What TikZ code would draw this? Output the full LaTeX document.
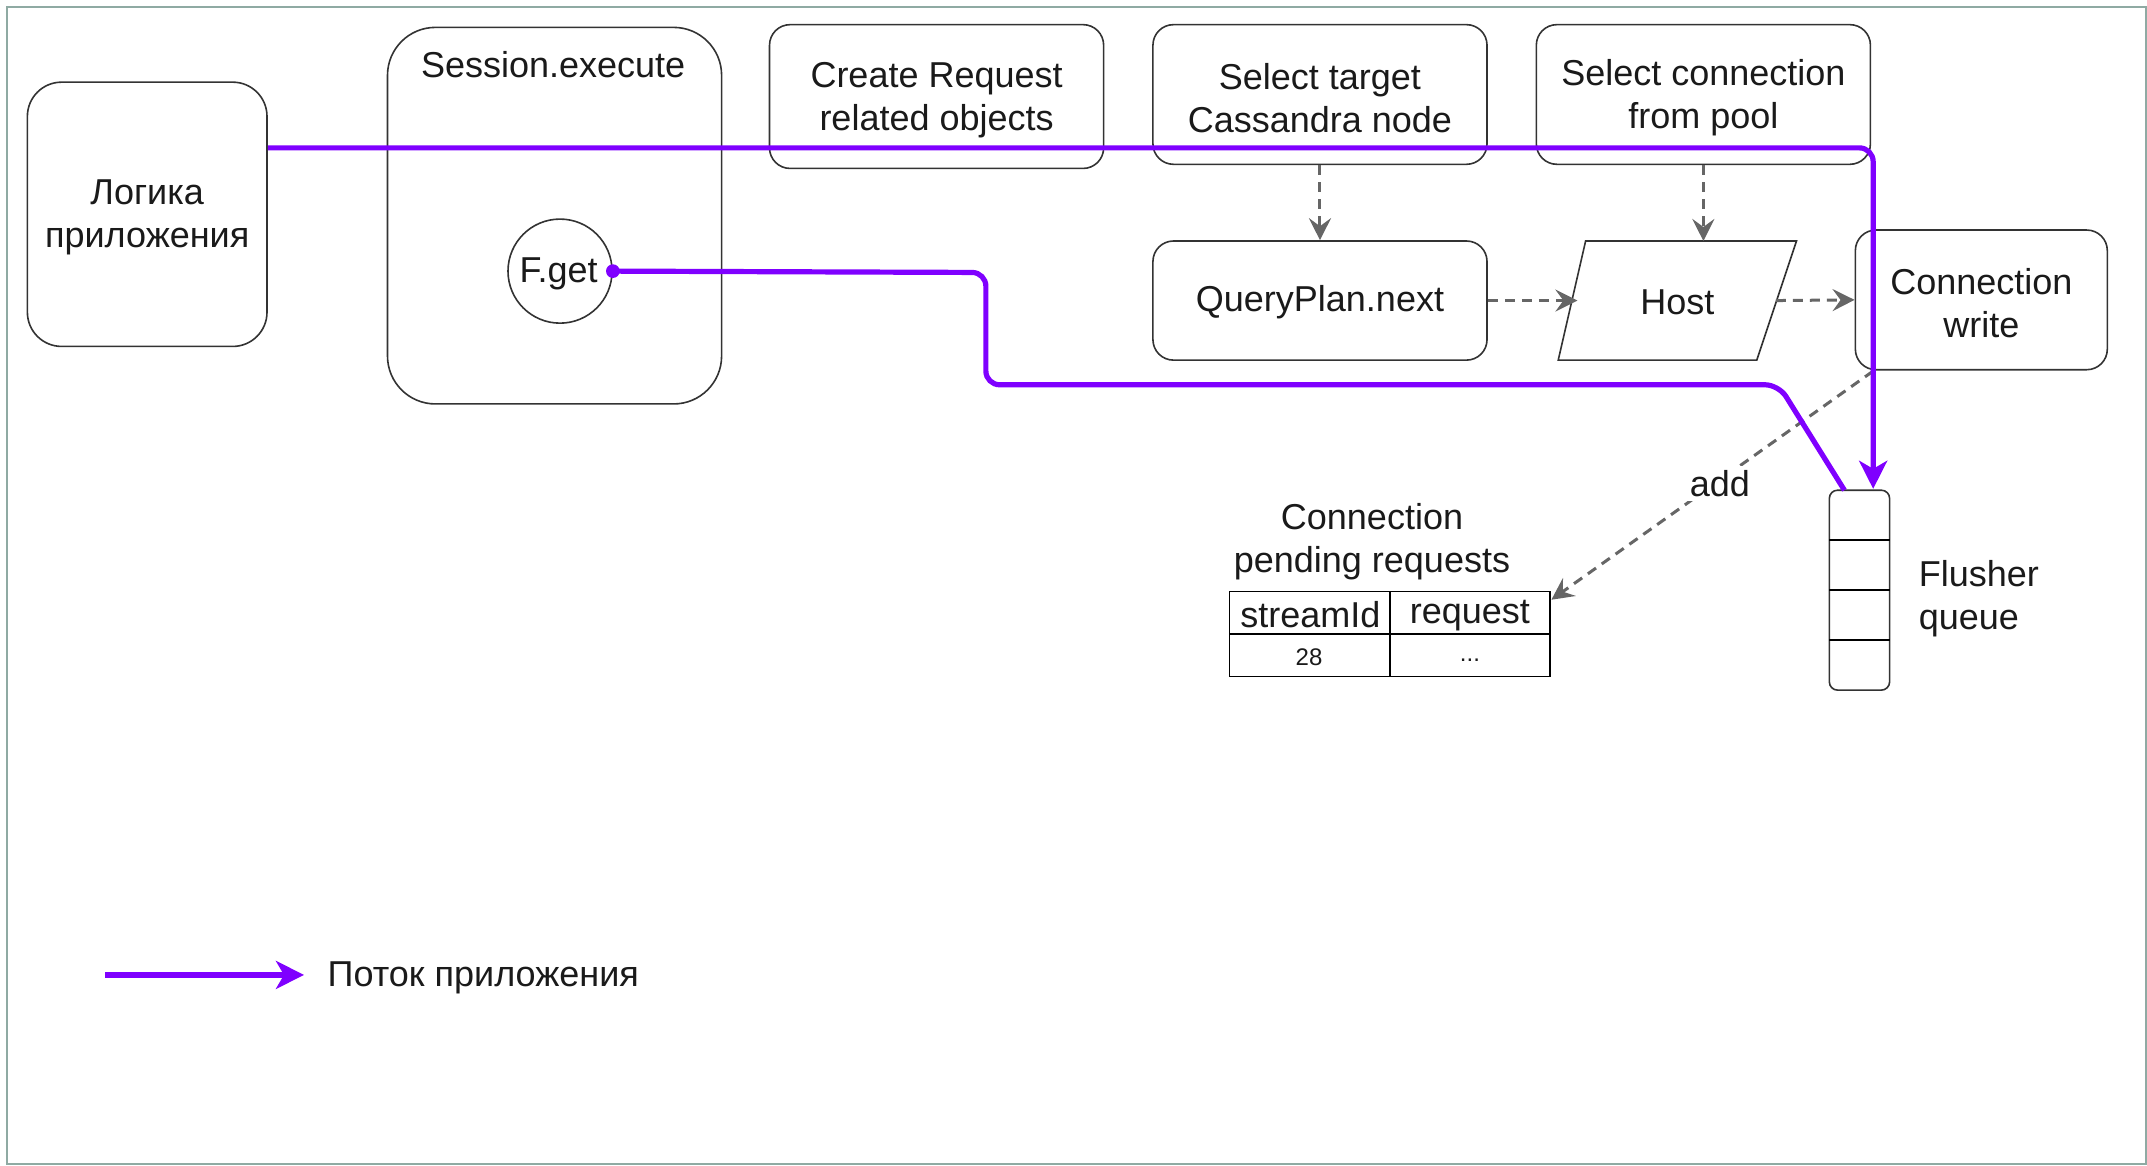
\documentclass[tikz,border=0pt]{standalone}
\usepackage{fontspec}
\setmainfont{Liberation Sans}
\usetikzlibrary{arrows.meta}
\def\px{0.6846pt}
\definecolor{flow}{HTML}{7F00FF}
\definecolor{edge}{HTML}{333333}
\definecolor{dgray}{HTML}{666666}
\definecolor{frame}{HTML}{8FAAA3}
\definecolor{txt}{HTML}{1A1A1A}
\tikzset{
  rbox/.style={draw=edge, line width=0.8pt, fill=white, rounded corners=15*\px, align=center, inner sep=0pt, text=txt},
  lbl/.style={align=center, inner sep=0pt, text=txt},
  dasharrow/.style={draw=dgray, line width=1.5pt, dash pattern=on 5pt off 3.5pt, -{Stealth[length=11pt, width=11pt, inset=4pt]}},
  flowline/.style={draw=flow, line width=2.6pt, rounded corners=10*\px},
  flowtip/.style={-{Stealth[length=14pt, width=14pt, inset=4pt]}}
}
\begin{document}
\begin{tikzpicture}[x=\px, y=-\px, font=\fontsize{18}{21.5}\selectfont]
\useasboundingbox (0,0) rectangle (1568,851);
\draw[frame, line width=1pt] (5,5) rectangle (1567,850);

% boxes
\node[rbox, minimum width=175*\px, minimum height=193*\px, rounded corners=25*\px] (logic) at (107.5,156.5) {};
\node[lbl] (logiclbl) at (107.5,159) {Логика\\приложения};
\node[rbox, minimum width=244*\px, minimum height=275*\px, rounded corners=35*\px] (session) at (405,157.5) {};
\node[lbl] (sesslbl) at (404,47) {Session.execute};
\node[circle, draw=edge, line width=0.8pt, fill=white, minimum size=76*\px, inner sep=0pt] (fget) at (409,198) {};
\node[lbl] (fgetlbl) at (408,200) {F.get};
\node[rbox, minimum width=244*\px, minimum height=105*\px] (create) at (684,70.5) {};
\node[lbl] (createlbl) at (684,73) {Create Request\\related objects};
\node[rbox, minimum width=244*\px, minimum height=102*\px] (target) at (964,69) {};
\node[lbl] (targetlbl) at (964,71.5) {Select target\\Cassandra node};
\node[rbox, minimum width=244*\px, minimum height=102*\px] (pool) at (1244,69) {};
\node[lbl] (poollbl) at (1244,71.5) {Select connection\\from pool};
\node[rbox, minimum width=244*\px, minimum height=87*\px] (qplan) at (964,219.5) {};
\node[lbl] (qplanlbl) at (964,221) {QueryPlan.next};
\draw[edge, line width=0.8pt, fill=white] (1158,176) -- (1312,176) -- (1283,263) -- (1138,263) -- cycle;
\node[lbl] (host) at (1225,221) {Host};
\coordinate (hostT) at (1244,176);
\coordinate (hostL) at (1152,219.5);
\coordinate (hostR) at (1297,219.5);
\node[rbox, minimum width=184*\px, minimum height=102*\px] (cwrite) at (1447,219) {};
\node[lbl] (cwritelbl) at (1447,221.5) {Connection\\write};

% flusher queue
\node[draw=edge, line width=0.8pt, fill=white, rounded corners=6*\px, minimum width=44*\px, minimum height=146*\px, inner sep=0pt] (queue) at (1358,431) {};
\draw[black, line width=0.8pt] (1336,394.5) -- (1380,394.5) (1336,431) -- (1380,431) (1336,467.5) -- (1380,467.5);
\node[lbl, anchor=west, align=left] (qlbl) at (1401,437) {Flusher\\queue};

% pending requests table
\node[lbl] (pendlbl) at (1002,395.5) {Connection\\pending requests};
\node[draw=black, line width=0.8pt, minimum width=234*\px, minimum height=62*\px, inner sep=0pt] (tbl) at (1015,463) {};
\draw[black, line width=0.8pt] (898,463) -- (1132,463) (1015,432) -- (1015,494);
\node[lbl] (h1) at (957,449) {streamId};
\node[lbl] (h2) at (1073.5,449.5) {request};
\node[lbl, font=\fontsize{12}{14}\selectfont] (c1) at (956,480) {28};
\node[lbl, font=\fontsize{12}{14}\selectfont] (c2) at (1073.5,482) {...};

% dashed connectors
\draw[dasharrow] (target.south) -- (qplan.north);
\draw[dasharrow] (pool.south -| hostT) -- (hostT);
\draw[dasharrow] (qplan.east) -- (hostL);
\draw[dasharrow] (hostR) -- (cwrite.west);
\coordinate (addstart) at (1368,271);
\coordinate (addend) at (1133,438);
\draw[dasharrow] (addstart) -- (addend);
\node[lbl, fill=white, inner sep=2pt] (addlbl) at (1256,353) {add};

% application flow
\draw[flowline, flowtip] (logic.east |- 0,108) -- (1368,108) -- (1368,357);
\fill[flow] (fget.east) circle (5*\px);
\draw[flowline] (fget.east) -- (720,199) -- (720,281) -- (1299,281) -- (1347,358);

% legend
\coordinate (legA) at (77,712);
\coordinate (legB) at (222,712);
\draw[flowline, flowtip] (legA) -- (legB);
\node[lbl, anchor=west] (legtxt) at (239,714) {Поток приложения};
\end{tikzpicture}
\end{document}
